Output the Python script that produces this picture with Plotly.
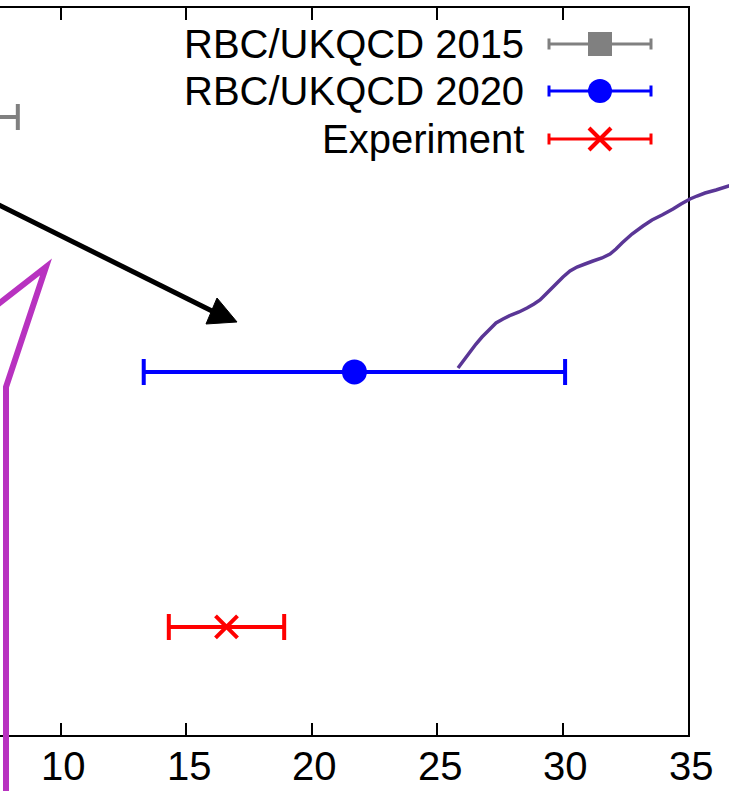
import plotly.graph_objects as go

# ---------------- data ----------------
series_names = ["RBC/UKQCD 2015", "RBC/UKQCD 2020", "Experiment"]
series_values = [1.38, 21.7, 16.6]          # Re(eps'/eps) x 10^4
series_errors = [6.9, 8.4, 2.3]
series_rows = [3, 2, 1]
series_colors = ["#808080", "#0000ff", "#ff0000"]
series_symbols = ["square", "circle", "x-thin"]
x_tick_values = [10, 15, 20, 25, 30, 35]
x_tick_labels = ["10", "15", "20", "25", "30", "35"]

# ---------------- geometry of the page ----------------
W, H = 729, 791
ML, MR, MT, MB = 0, 41, 8, 56
PW, PH = W - ML - MR, H - MT - MB
FONT = "Liberation Sans, Arial, Helvetica, sans-serif"


def px(x):
    return (x - ML) / PW


def py(y):
    return (H - MB - y) / PH


fig = go.Figure()

marker_sizes = [24, 25, 22]
for name, v, e, r, c, s, ms in zip(series_names, series_values, series_errors,
                                    series_rows, series_colors, series_symbols,
                                    marker_sizes):
    fig.add_trace(go.Scatter(
        x=[v], y=[r], mode="markers", name=name, showlegend=False,
        marker=dict(symbol=s, size=ms, color=c,
                    line=dict(color=c, width=4 if s == "x-thin" else 0)),
        error_x=dict(type="data", array=[e], visible=True, color=c,
                     thickness=4, width=13),
    ))

shapes = []
annotations = []

# ---------------- x tick labels (placed on the axis scale) ----------------
for tv, tl in zip(x_tick_values, x_tick_labels):
    annotations.append(dict(
        x=tv, xref="x", y=py(790), yref="paper", text=tl, showarrow=False,
        xanchor="center", yanchor="bottom", xshift=3,
        font=dict(family=FONT, size=40, color="black")))

# ---------------- custom legend (text left of sample) ----------------
leg_rows_px = [44, 91, 139]
leg_text_right = 526
leg_x0, leg_x1, leg_xm = 549, 651, 600
for name, c, s, ly in zip(series_names, series_colors, series_symbols, leg_rows_px):
    annotations.append(dict(
        x=px(leg_text_right), y=py(ly), xref="paper", yref="paper",
        text=name, showarrow=False, xanchor="right", yanchor="middle",
        font=dict(family=FONT, size=40, color="black")))
    shapes.append(dict(type="line", xref="paper", yref="paper",
                       x0=px(leg_x0), x1=px(leg_x1), y0=py(ly), y1=py(ly),
                       line=dict(color=c, width=3)))
    for cx in (leg_x0, leg_x1):
        shapes.append(dict(type="line", xref="paper", yref="paper",
                           x0=px(cx), x1=px(cx), y0=py(ly - 5.5), y1=py(ly + 5.5),
                           line=dict(color=c, width=3)))
    if s == "square":
        shapes.append(dict(type="rect", xref="paper", yref="paper",
                           x0=px(leg_xm - 12), x1=px(leg_xm + 12),
                           y0=py(ly - 12), y1=py(ly + 12),
                           fillcolor=c, line=dict(width=0)))
    elif s == "circle":
        shapes.append(dict(type="circle", xref="paper", yref="paper",
                           x0=px(leg_xm - 12), x1=px(leg_xm + 12),
                           y0=py(ly - 12), y1=py(ly + 12),
                           fillcolor=c, line=dict(width=0)))
    else:
        for d in (1, -1):
            shapes.append(dict(type="line", xref="paper", yref="paper",
                               x0=px(leg_xm - 11), x1=px(leg_xm + 11),
                               y0=py(ly - 11 * d), y1=py(ly + 11 * d),
                               line=dict(color=c, width=4)))

# ---------------- hand-drawn overlay annotations (page pixels) ----------------
def path_from(points, close=False):
    p = "M " + " L ".join(f"{px(a):.5f},{py(b):.5f}" for a, b in points)
    return p + (" Z" if close else "")


magenta_stroke = [(6, 800), (6, 387), (46, 267), (-12, 312)]
arrow_shaft = [(-5, 203), (214, 312)]
arrow_head = [(206, 324), (217, 298), (237, 322)]
purple_wave = [(458, 368), (464, 360), (470, 352), (476, 344), (482, 337),
               (489, 330), (496, 323), (503, 319), (511, 315), (519, 312),
               (527, 308), (534, 304), (540, 300), (545, 295), (550, 290),
               (556, 284), (563, 277), (570, 271), (577, 267), (585, 264),
               (593, 261), (602, 258), (610, 254), (616, 249), (622, 243),
               (632, 234), (643, 226), (652, 220), (662, 215), (673, 209),
               (681, 204), (690, 199), (697, 196), (705, 193), (716, 190),
               (735, 184)]

shapes.append(dict(type="path", xref="paper", yref="paper",
                   path=path_from(magenta_stroke),
                   line=dict(color="#b832c0", width=6)))
shapes.append(dict(type="path", xref="paper", yref="paper",
                   path=path_from(arrow_shaft),
                   line=dict(color="black", width=5)))
shapes.append(dict(type="path", xref="paper", yref="paper",
                   path=path_from(arrow_head, close=True),
                   fillcolor="black", line=dict(color="black", width=1)))
shapes.append(dict(type="path", xref="paper", yref="paper",
                   path=path_from(purple_wave),
                   line=dict(color="#5a3696", width=3.5)))

x_lo = 10 - (61 - ML) / 25.1
fig.update_layout(
    width=W, height=H,
    margin=dict(l=ML, r=MR, t=MT, b=MB, pad=0, autoexpand=False),
    paper_bgcolor="white", plot_bgcolor="white",
    showlegend=False,
    shapes=shapes, annotations=annotations,
    font=dict(family=FONT, size=40, color="black"),
    xaxis=dict(range=[x_lo, 35], tickmode="array", tickvals=x_tick_values,
               showticklabels=False, ticks="inside", ticklen=12,
               tickwidth=1.5, tickcolor="black", showline=True,
               linecolor="black", linewidth=2, mirror="ticks",
               showgrid=False, zeroline=False, automargin=False),
    yaxis=dict(range=[0.576, 3.427], side="right", showline=True,
               linecolor="black", linewidth=2, showticklabels=False,
               ticks="", showgrid=False, zeroline=False, automargin=False),
)

fig.write_html("out.html")
